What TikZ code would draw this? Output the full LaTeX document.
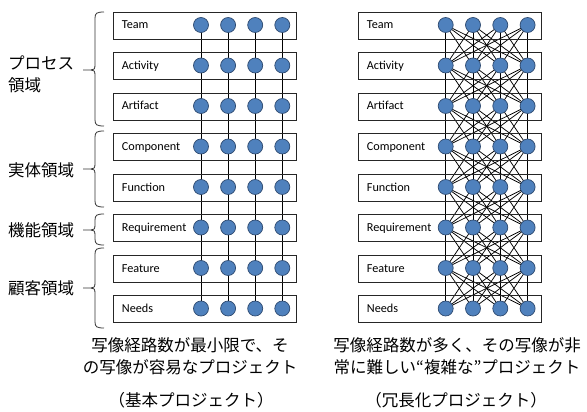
\documentclass[tikz,border=0pt]{standalone}
\usepackage{fontspec}
\setmainfont{Carlito}
\newfontfamily\jpf{Noto Sans CJK JP}
\definecolor{dotblue}{HTML}{4F81BD}
\definecolor{dotedge}{HTML}{2E4A70}
\pgfdeclarelayer{bg}
\pgfsetlayers{bg,main}
\begin{document}
\begin{tikzpicture}[x=1pt,y=-1pt,
  box/.style={draw=black!85, line width=0.8pt, minimum width=183.3pt, minimum height=27pt, inner sep=0pt, anchor=north west},
  dot/.style={circle, fill=dotblue, draw=dotedge, line width=0.7pt, minimum size=15pt, inner sep=0pt},
  lbl/.style={font=\fontsize{12.2}{13}\selectfont, anchor=base west, inner sep=0pt},
  jp/.style={font=\jpf\fontsize{16.5}{18}\selectfont, inner sep=0pt},
  jpl/.style={jp, anchor=west},
  brc/.style={line width=0.8pt, draw=black!80},
  link/.style={line width=0.75pt, draw=black}]
\useasboundingbox (0,0) rectangle (587,412);
% boxes, labels and dots
\foreach \t [count=\n from 0] in {Team,Activity,Artifact,Component,Function,Requirement,Feature,Needs} {
  \node[box] (L\n) at (112.7,{11.7+40.5*\n}) {};
  \node[lbl] (Lt\n) at (121.7,{29+40.5*\n}) {\t};
  \node[box] (R\n) at (357.7,{11.7+40.5*\n}) {};
  \node[lbl] (Rt\n) at (366.7,{29+40.5*\n}) {\t};
  \foreach \j in {0,1,2,3} {
    \node[dot] (Lc-\n-\j) at ({201+27.1*\j},{25+40.5*\n}) {};
    \node[dot] (Rc-\n-\j) at ({445.7+27.3*\j},{25+40.5*\n}) {};
  }
}
% links
\begin{pgfonlayer}{bg}
\foreach \j in {0,1,2,3} {
  \draw[link] (Lc-0-\j.center) -- (Lc-7-\j.center);
}
\foreach \n [evaluate=\n as \m using int(\n+1)] in {0,...,6} {
  \foreach \j in {0,1,2,3} {
    \foreach \k in {0,1,2,3} {
      \draw[link] (Rc-\n-\j.center) -- (Rc-\m-\k.center);
    }
  }
}
\end{pgfonlayer}
% braces
\foreach \tp/\md/\bt in {12/70/126, 131/169/207, 214/230/245, 248/288/328} {
  \draw[brc] (104,\tp) .. controls (97,\tp) and (95,{\tp+1}) .. (95,{\tp+6})
    -- (95,{\md-5}) .. controls (95,{\md-1}) and (94,\md) .. (91,\md) -- (83,\md);
  \draw[brc] (91,\md) .. controls (94,\md) and (95,{\md+1}) .. (95,{\md+5})
    -- (95,{\bt-6}) .. controls (95,{\bt-1}) and (97,\bt) .. (104,\bt);
}
% domain labels
\node[jpl] (d1a) at (8,63) {プロセス};
\node[jpl] (d1b) at (8,85) {領域};
\node[jpl] (d2) at (8,170) {実体領域};
\node[jpl] (d3) at (8,230) {機能領域};
\node[jpl] (d4) at (8,288) {顧客領域};
% captions
\node[jp] (c1a) at (190,345) {写像経路数が最小限で、そ};
\node[jp] (c1b) at (190,367) {の写像が容易なプロジェクト};
\node[jp] (c1c) at (191,400) {（基本プロジェクト）};
\node[jp] (c2a) at (457,345) {写像経路数が多く、その写像が非};
\node[jp] (c2b) at (457,367) {常に難しい“複雑な”プロジェクト};
\node[jp] (c2c) at (456,400) {（冗長化プロジェクト）};
\end{tikzpicture}
\end{document}
